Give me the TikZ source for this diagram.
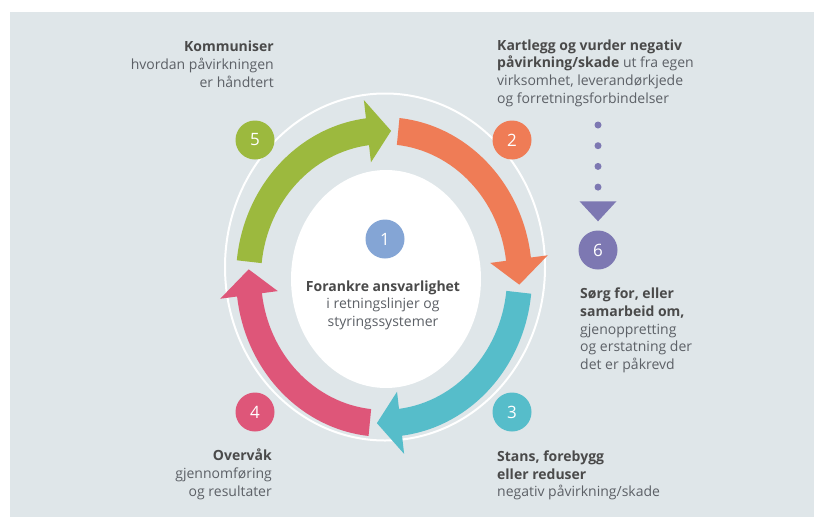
\documentclass[tikz,border=0pt]{standalone}
\usepackage{fontspec}
\setmainfont{Open Sans}
\usetikzlibrary{arrows.meta, positioning, calc}

\definecolor{Backdrop}{HTML}{DFE6E9}
\definecolor{StepGreen}{HTML}{9CB93E}
\definecolor{StepOrange}{HTML}{EF7C56}
\definecolor{StepTeal}{HTML}{56BDCA}
\definecolor{StepPink}{HTML}{DE5679}
\definecolor{StepPurple}{HTML}{7D78B2}
\definecolor{StepBlue}{HTML}{84A5D5}
\definecolor{TextDark}{HTML}{4A4A4A}
\definecolor{TextGrey}{HTML}{5C6066}

\newcommand{\steptitle}[1]{{\bfseries\color{TextDark}#1}}

\begin{document}
\begin{tikzpicture}[
        x=1pt, y=-1pt,
        numdot/.style={circle, minimum size=39pt, inner sep=0pt, text=white, font=\fontsize{17}{17}\selectfont},
        txt/.style={inner sep=0pt, text=TextGrey, font=\fontsize{14}{17.7}\selectfont},
        dotlink/.style={StepPurple, line width=7pt, line cap=round, dash pattern=on 0pt off 20.7pt,
            shorten >=9pt, -{Triangle[width=37pt, length=20pt, line width=0pt]}}
    ]
        \useasboundingbox[fill=white] (0,0) rectangle (814,517);
        \fill[Backdrop] (10,12) rectangle (814,517);

        % Ring and centre
        \draw[white, line width=2pt] (385,267) ellipse [x radius=160, y radius=173.5];
        \fill[white] (386,279) ellipse [x radius=95, y radius=109];

        % Cycle arrows
        \begin{scope}[shift={(384,277)}, yscale=-1.08]
            \foreach \col [count=\k from 0] in {StepGreen, StepOrange, StepTeal, StepPink} {
                \pgfmathsetmacro\T{174-90*\k}
                \pgfmathsetmacro\B{97-90*\k}
                \pgfmathsetmacro\P{87-90*\k}
                \fill[\col] (\T:123) arc[start angle=\T, end angle=\B, radius=123]
                    -- (\B:107) -- (\P:135.5) -- (\B:165) -- (\B:148)
                    arc[start angle=\B, end angle=\T, radius=148] -- cycle;
            }
        \end{scope}

        \node[numdot, fill=StepBlue] (n1) at (385,239) {1};
        \node[numdot, fill=StepOrange] (n2) at (512,140) {2};
        \node[numdot, fill=StepTeal] (n3) at (512,412) {3};
        \node[numdot, fill=StepPink] (n4) at (255,412) {4};
        \node[numdot, fill=StepGreen] (n5) at (255,140) {5};
        \node[numdot, fill=StepPurple] (n6) at (598,250) {6};

        % base anchor sits on the last line
        \node[txt, align=center, anchor=base] (t1) at (383,326.5)
            {\steptitle{Forankre ansvarlighet}\\i retningslinjer og\\styringssystemer};
        \node[txt, align=left, anchor=base west] (t2) at (497,103.3)
            {\steptitle{Kartlegg og vurder negativ}\\\steptitle{påvirkning/skade} ut fra egen\\virksomhet, leverandørkjede\\og forretningsforbindelser};
        \node[txt, align=left, anchor=base west] (t3) at (497,496.8)
            {\steptitle{Stans, forebygg}\\\steptitle{eller reduser}\\negativ påvirkning/skade};
        \node[txt, align=right, anchor=base east] (t4) at (272,496.2)
            {\steptitle{Overvåk}\\gjennomføring\\og resultater};
        \node[txt, align=right, anchor=base east] (t5) at (274,87)
            {\steptitle{Kommuniser}\\hvordan påvirkningen\\er håndtert};
        \node[txt, align=left, anchor=base west] (t6) at (580,369.5)
            {\steptitle{Sørg for, eller}\\\steptitle{samarbeid om,}\\gjenoppretting\\og erstatning der\\det er påkrevd};

        \coordinate (dottop) at (598,125);
        \draw[dotlink] (dottop) -- (n6);
    \end{tikzpicture}
\end{document}
